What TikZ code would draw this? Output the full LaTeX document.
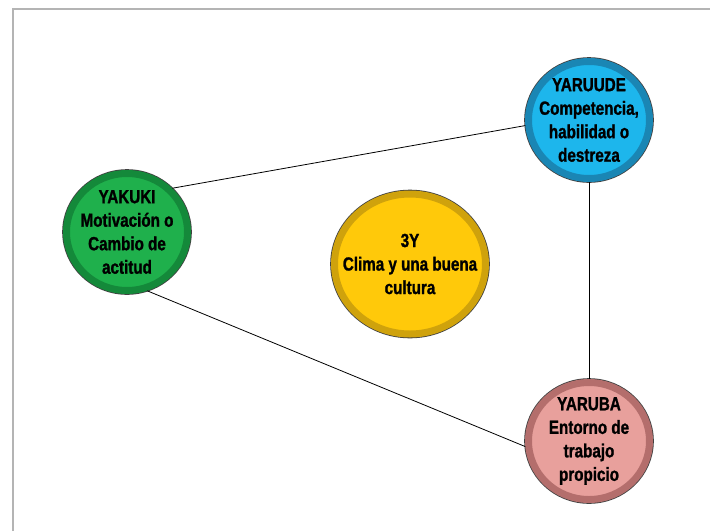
\documentclass[tikz,border=0pt]{standalone}
\usepackage{fontspec}
\usetikzlibrary{shapes.geometric}

\newfontfamily\bubblefont[FakeStretch=0.80, FakeBold=1.2]{Liberation Sans}

\definecolor{frameline}{HTML}{B4B4B4}
\definecolor{greenfill}{HTML}{1FB04C}
\definecolor{greenrim}{HTML}{14893A}
\definecolor{bluefill}{HTML}{1DB6EC}
\definecolor{bluerim}{HTML}{1A86B4}
\definecolor{yellowfill}{HTML}{FFC90A}
\definecolor{yellowrim}{HTML}{CFA20C}
\definecolor{pinkfill}{HTML}{E8A09C}
\definecolor{pinkrim}{HTML}{B46E6C}

\tikzset{
  bubble/.style n args={2}{ellipse, fill=#1, draw=#2, line width=7pt,
    preaction={draw=black!75, line width=8.6pt}, inner sep=0pt},
  bubbletext/.style={align=center, inner sep=0pt,
    font=\bubblefont\bfseries\fontsize{19}{23.5}\selectfont}
}

\begin{document}
\begin{tikzpicture}[x=1pt,y=-1pt]

        \useasboundingbox (0,0) rectangle (710,531);
        \draw[frameline, line width=1.5pt] (13,531) -- (13,9) -- (710,9);

        \begin{scope}[every node/.style={minimum width=121pt, minimum height=117pt}]
          \node[bubble={greenfill}{greenrim}] (yakuki)  at (127,232) {};
          \node[bubble={bluefill}{bluerim}]   (yaruude) at (589,120) {};
          \node[bubble={pinkfill}{pinkrim}]   (yaruba)  at (589,441) {};
          \node[bubble={yellowfill}{yellowrim}, minimum width=151pt, minimum height=140pt]
                                              (tresy)   at (410,264) {};
        \end{scope}

        \node[bubbletext] at (yakuki)  {YAKUKI\\Motivación o\\Cambio de\\actitud};
        \node[bubbletext] at (yaruude) {YARUUDE\\Competencia,\\habilidad o\\destreza};
        \node[bubbletext] at (yaruba)  {YARUBA\\Entorno de\\trabajo\\propicio};
        \node[bubbletext] at (tresy)   {3Y\\Clima y una buena\\cultura};

        \begin{scope}[every edge/.style={draw, line width=0.8pt}]
          \path (yakuki.44)   edge (yaruude.185);
          \path (yakuki.-71)  edge (yaruba.185);
          \path (yaruude.south) edge (yaruba.north);
        \end{scope}

      \end{tikzpicture}
\end{document}
